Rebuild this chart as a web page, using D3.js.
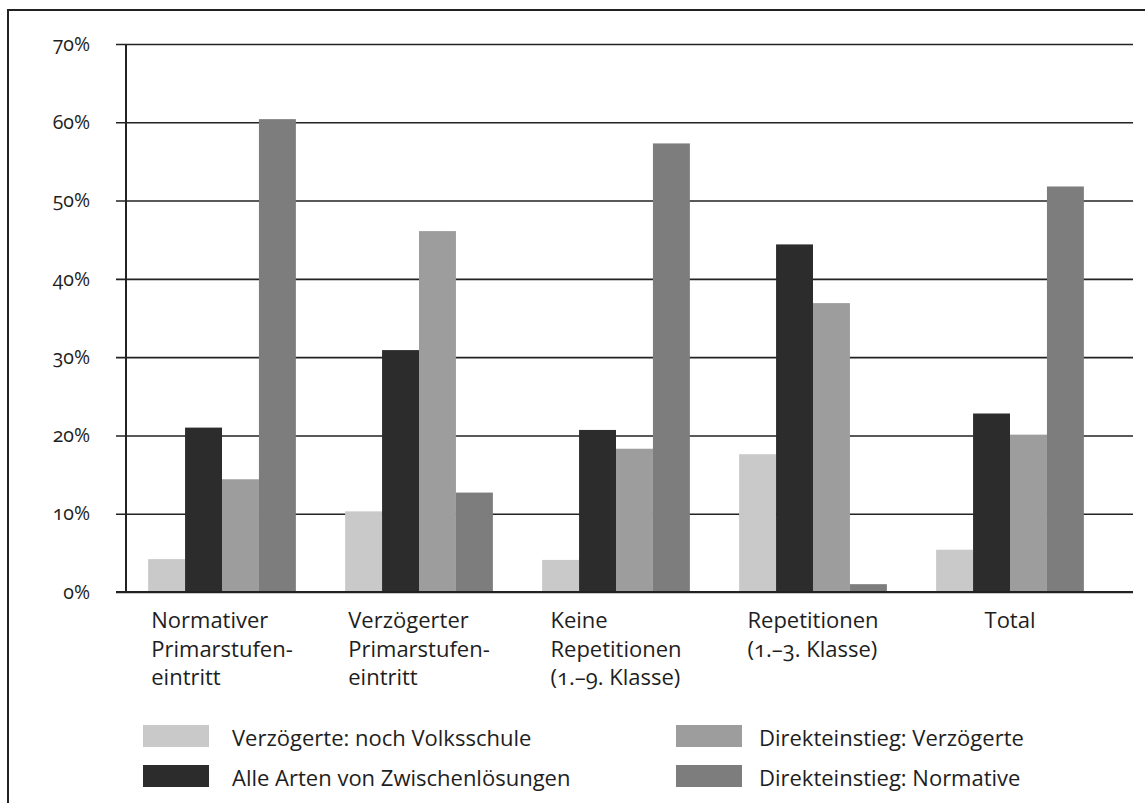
<!DOCTYPE html>
<html>
<head>
<meta charset="utf-8">
<script src="https://cdn.jsdelivr.net/npm/d3@7"></script>
<style>
  html, body { margin: 0; padding: 0; background: #ffffff; }
  svg { display: block; }
  text { font-family: "Open Sans", "Noto Sans", sans-serif; fill: #1e1e1e; font-variant-numeric: oldstyle-nums; font-feature-settings: "onum" 1; }
</style>
</head>
<body>
<svg id="chart" width="1145" height="803"></svg>
<script>
// ---- data ----
const categories = [
  ["Normativer", "Primarstufen-", "eintritt"],
  ["Verzögerter", "Primarstufen-", "eintritt"],
  ["Keine", "Repetitionen", "(1.–9. Klasse)"],
  ["Repetitionen", "(1.–3. Klasse)"],
  ["Total"]
];
const seriesNames = [
  "Verzögerte: noch Volksschule",
  "Alle Arten von Zwischenlösungen",
  "Direkteinstieg: Verzögerte",
  "Direkteinstieg: Normative"
];
const nochVolksschule   = [4.2, 10.3, 4.1, 17.6, 5.4];
const zwischenloesungen = [21.0, 30.9, 20.7, 44.4, 22.8];
const direktVerzoegerte = [14.4, 46.1, 18.3, 36.9, 20.1];
const direktNormative   = [60.4, 12.7, 57.3, 1.0, 51.8];
const seriesValues = [nochVolksschule, zwischenloesungen, direktVerzoegerte, direktNormative];
const yTicks = [0, 10, 20, 30, 40, 50, 60, 70];

// ---- styles ----
const colors = ["#c9c9c9", "#2c2c2c", "#9d9d9d", "#7d7d7d"];

const svg = d3.select("#chart");

// frame (top and left border)
svg.append("path")
  .attr("d", "M8,1000 L8,10 L1160,10")
  .attr("fill", "none").attr("stroke", "#222").attr("stroke-width", 2);

const y = d3.scaleLinear().domain([0, 70]).range([592, 44]);
const x0 = d3.scaleBand()
  .domain(categories.map((d, i) => i))
  .range([123.5, 1108.5])
  .paddingInner(0.25)
  .paddingOuter(0.125);
const x1 = d3.scaleBand()
  .domain(seriesNames.map((d, i) => i))
  .range([0, x0.bandwidth()])
  .padding(0);

// gridlines via axis
const gridAxis = d3.axisLeft(y).tickValues(yTicks).tickSize(-(1133 - 116)).tickFormat("");
const g = svg.append("g").attr("transform", "translate(116,0)").call(gridAxis);
g.select(".domain").remove();
g.selectAll(".tick line").attr("stroke", "#222").attr("stroke-width", 1.6);

// y labels
const labAxis = d3.axisLeft(y).tickValues(yTicks).tickSize(0).tickPadding(0).tickFormat(d => d + "%");
const gl = svg.append("g").attr("transform", "translate(90,0)").call(labAxis);
gl.select(".domain").remove();
gl.selectAll(".tick text")
  .attr("font-size", 19.5)
  .attr("fill", "#1e1e1e")
  .style("font-family", '"Open Sans", sans-serif');

// bars
const groups = svg.append("g").selectAll("g")
  .data(categories.map((c, i) => i))
  .join("g")
  .attr("transform", i => `translate(${x0(i)},0)`);
groups.selectAll("rect")
  .data(i => seriesValues.map((s, k) => ({ k, v: s[i] })))
  .join("rect")
  .attr("x", d => x1(d.k))
  .attr("y", d => y(d.v))
  .attr("width", x1.bandwidth())
  .attr("height", d => y(0) - y(d.v))
  .attr("fill", d => colors[d.k]);

// axis lines
svg.append("line").attr("x1", 126).attr("x2", 126).attr("y1", 44).attr("y2", 592)
  .attr("stroke", "#222").attr("stroke-width", 2);
svg.append("line").attr("x1", 116).attr("x2", 1133).attr("y1", y(0)).attr("y2", y(0))
  .attr("stroke", "#222").attr("stroke-width", 2);

// category labels: left-aligned blocks centered on group
const catG = svg.append("g");
categories.forEach((lines, i) => {
  const t = catG.append("text").attr("font-size", 22).attr("fill", "#1e1e1e");
  lines.forEach((ln, j) => {
    t.append("tspan").attr("x", 0).attr("y", 628 + j * 28.5).text(ln);
  });
  const w = t.node().getBBox().width;
  const cx = x0(i) + x0.bandwidth() / 2;
  t.attr("transform", `translate(${cx - w / 2},0)`);
});

// legend
const legendPos = [
  { sx: 143, tx: 232, y: 725 },
  { sx: 143, tx: 232, y: 765 },
  { sx: 676, tx: 759, y: 725 },
  { sx: 676, tx: 759, y: 765 }
];
const lg = svg.append("g");
seriesNames.forEach((name, k) => {
  const p = legendPos[k];
  lg.append("rect").attr("x", p.sx).attr("y", p.y).attr("width", 66).attr("height", 22).attr("fill", colors[k]);
  lg.append("text").attr("x", p.tx).attr("y", p.y + 21).attr("font-size", 22).attr("fill", "#1e1e1e").text(name);
});
</script>
</body>
</html>
